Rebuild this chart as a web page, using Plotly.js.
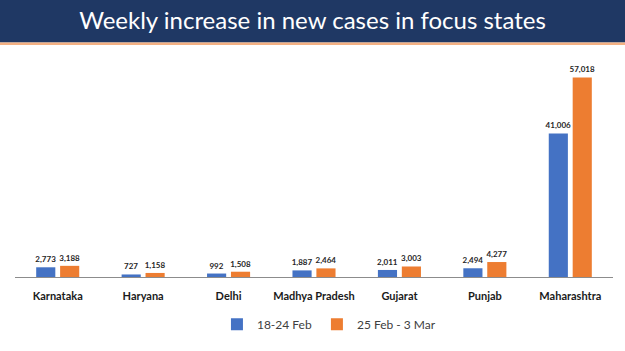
<!DOCTYPE html>
<html><head><meta charset="utf-8">
<script src="https://cdn.plot.ly/plotly-3.0.1.min.js"></script>
<style>html,body{margin:0;padding:0;background:#fff;}#chart{width:625px;height:351px;}</style>
</head><body><div id="chart"></div>
<script>
const categories = ["Karnataka","Haryana","Delhi","Madhya Pradesh","Gujarat","Punjab","Maharashtra"];
const seriesNames = ["18-24 Feb","25 Feb - 3 Mar"];
const week1 = [2773,727,992,1887,2011,2494,41006];
const week2 = [3188,1158,1508,2464,3003,4277,57018];
const colors = ["#4472C4","#ED7D31"];
const fmt = v => v.toLocaleString("en-US");
const mk = (vals,i) => ({
  type:"bar", x:categories, y:vals, name:seriesNames[i],
  marker:{color:colors[i]},
  text:vals.map(fmt), textposition:"outside", cliponaxis:false, constraintext:"none",
  textfont:{family:"Lato, sans-serif", size:8, color:"#262626", weight:700},
  hoverinfo:"skip"
});
const layout = {
  width:625, height:351,
  margin:{l:15, r:12, t:67, b:70},
  paper_bgcolor:"#fff", plot_bgcolor:"#fff",
  barmode:"group", bargap:0.44, bargroupgap:0.2,
  showlegend:true,
  legend:{orientation:"h", x:0.525, xanchor:"center", y:-0.225, yanchor:"middle",
    font:{family:"Lato, sans-serif", size:12, color:"#404040"}},
  xaxis:{showline:true, linecolor:"#8c8c8c", linewidth:1, ticks:"", ticklabelstandoff:9,
    tickfont:{family:"Lato, sans-serif", size:11, color:"#1a1a1a", weight:700}, fixedrange:true},
  yaxis:{range:[0,60000], visible:false, showgrid:false, zeroline:false, fixedrange:true},
  shapes:[
    {type:"rect", xref:"paper", yref:"paper", x0:-0.05, x1:1.05, y0:1.117, y1:1.35, fillcolor:"#1F3864", line:{width:0}, layer:"above"},
    {type:"rect", xref:"paper", yref:"paper", x0:-0.05, x1:1.05, y0:1.105, y1:1.117, fillcolor:"#F4B183", line:{width:0}, layer:"above"}
  ],
  title:{text:"Weekly increase in new cases in focus states", x:0.5, xanchor:"center", y:0.94, yanchor:"middle", yref:"container",
    font:{family:"Lato, sans-serif", size:24, color:"#ffffff"}}
};
Plotly.newPlot("chart",[mk(week1,0),mk(week2,1)],layout,{displayModeBar:false, staticPlot:true});
</script></body></html>
